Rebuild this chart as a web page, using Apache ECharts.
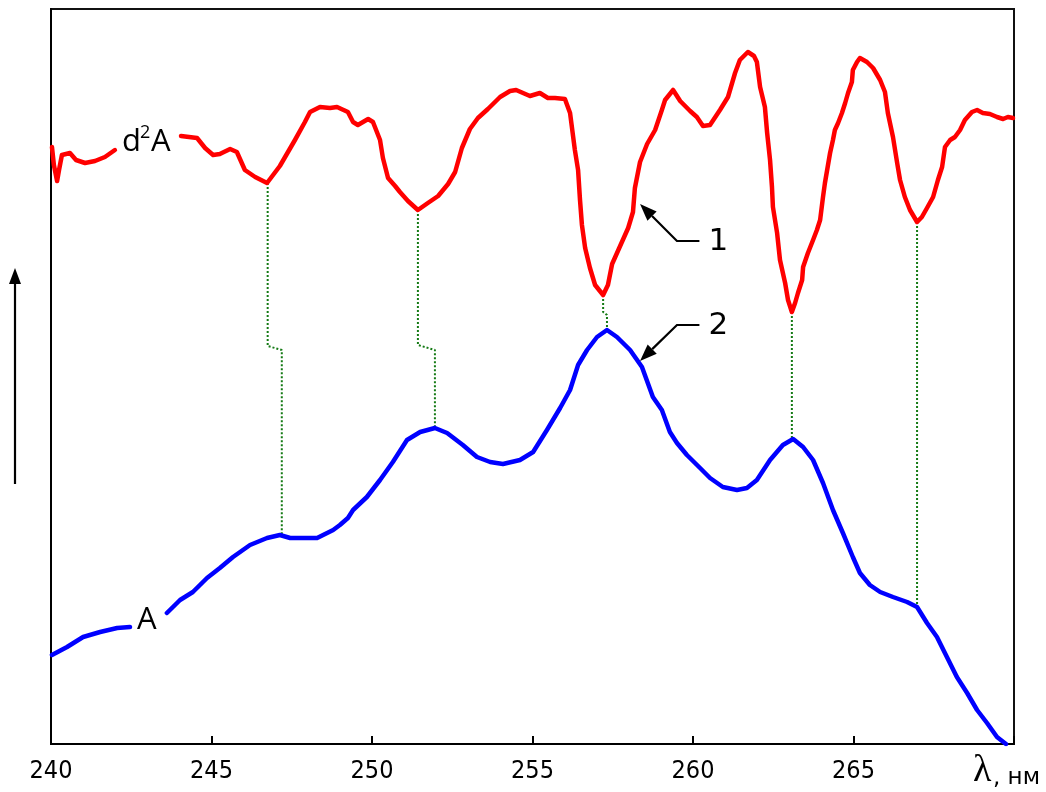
<!DOCTYPE html>
<html>
<head>
<meta charset="utf-8">
<script src="https://cdn.jsdelivr.net/npm/echarts@6/dist/echarts.min.js"></script>
<style>
  html, body { margin: 0; padding: 0; background: #ffffff; }
  #chart { width: 1046px; height: 792px; }
</style>
</head>
<body>
<div id="chart"></div>
<script>
// Wavelength axis, nm
const tickLabels = ['240', '245', '250', '255', '260', '265'];

// Curve 1: second-derivative spectrum d2A (arbitrary units); null = gap for its label
const d2aLambda = [
  240.03, 240.09, 240.19, 240.25, 240.34, 240.59, 240.78, 241.06, 241.37, 241.68, 241.99,
  242.50,
  244.05, 244.55, 244.80, 245.05, 245.26, 245.58, 245.79, 246.04, 246.36, 246.73,
  247.13, 247.60, 247.91, 248.07, 248.38, 248.69, 248.91, 249.25, 249.41, 249.56,
  249.88, 250.03, 250.25, 250.34, 250.50, 250.72, 250.87, 251.12, 251.43, 251.74,
  252.06, 252.37, 252.59, 252.80, 253.05, 253.30, 253.61, 253.99, 254.30, 254.49,
  254.92, 255.23, 255.48, 255.70, 256.01, 256.17, 256.32, 256.42, 256.48, 256.54,
  256.64, 256.79, 256.95, 257.20, 257.35, 257.48, 257.73, 257.98, 258.13, 258.19,
  258.35, 258.57, 258.82, 259.03, 259.13, 259.38, 259.60, 259.91, 260.12, 260.31,
  260.53, 260.84, 261.09, 261.31, 261.46, 261.71, 261.90, 261.99, 262.09, 262.24,
  262.31, 262.40, 262.46, 262.49, 262.62, 262.71, 262.87, 262.96, 263.08, 263.18,
  263.27, 263.40, 263.43, 263.58, 263.74, 263.86, 263.96, 264.05, 264.11, 264.27,
  264.36, 264.42, 264.52, 264.64, 264.74, 264.83, 264.95, 264.98, 265.11, 265.20,
  265.42, 265.61, 265.83, 265.98, 266.07, 266.23, 266.36, 266.45, 266.60, 266.76,
  266.98, 267.13, 267.29, 267.48, 267.63, 267.76, 267.85, 268.01, 268.16, 268.32,
  268.47, 268.69, 268.85, 269.03, 269.25, 269.47, 269.66, 269.81, 269.97
];
const d2aValues = [
  119.4, 115.8, 112.6, 114.8, 117.8, 118.2, 116.8, 116.2, 116.6, 117.4, 118.8,
  null,
  121.6, 121.2, 119.2, 117.8, 118.0, 119.0, 118.4, 114.8, 113.4, 112.2,
  115.6, 120.8, 124.4, 126.4, 127.4, 127.2, 127.4, 126.4, 124.4, 123.8,
  125.0, 124.4, 120.8, 117.2, 113.2, 111.6, 110.4, 108.6, 106.8, 108.2,
  109.6, 112.0, 114.4, 119.2, 123.0, 125.2, 127.0, 129.4, 130.6, 130.8,
  129.6, 130.2, 129.2, 129.2, 129.0, 126.2, 118.8, 114.8, 108.8, 103.8,
  99.2, 95.2, 91.8, 89.8, 91.8, 96.0, 99.6, 103.2, 106.4, 111.2,
  116.4, 120.0, 122.8, 126.8, 128.8, 130.8, 128.6, 126.6, 125.4, 123.6,
  123.8, 126.8, 129.4, 134.2, 136.8, 138.4, 137.6, 136.4, 131.4, 127.4,
  122.2, 116.8, 111.4, 107.4, 102.2, 96.8, 92.2, 88.8, 86.4, 88.2,
  90.2, 92.8, 95.4, 98.2, 100.8, 102.8, 104.8, 109.4, 112.2, 118.2,
  120.8, 122.8, 124.2, 126.2, 128.2, 130.2, 132.4, 134.8, 136.4, 137.2,
  136.4, 135.2, 132.8, 130.4, 126.2, 121.4, 116.2, 112.8, 109.4, 106.8,
  104.4, 105.4, 107.2, 109.4, 112.8, 115.4, 119.4, 120.8, 121.4, 122.8,
  124.8, 126.4, 126.8, 126.2, 126.0, 125.4, 125.0, 125.4, 125.2
];

// Curve 2: absorption spectrum A (arbitrary units); null = gap for its label
const absLambda = [
  240.03, 240.50, 241.00, 241.53, 242.06, 242.46,
  243.00,
  243.61, 244.02, 244.42, 244.86, 245.26, 245.67, 246.20, 246.73, 247.13, 247.45,
  248.29, 248.79, 249.00, 249.25, 249.41, 249.84, 250.25, 250.65, 251.09, 251.50,
  251.96, 252.34, 252.83, 253.27, 253.68, 254.08, 254.61, 255.02, 255.45, 255.86,
  256.17, 256.42, 256.70, 257.01, 257.32, 257.63, 258.04, 258.41, 258.75, 259.03,
  259.28, 259.50, 259.81, 260.22, 260.53, 260.93, 261.37, 261.68, 261.99, 262.40,
  262.80, 263.12, 263.43, 263.74, 264.05, 264.36, 264.67, 264.98, 265.20, 265.51,
  265.83, 266.23, 266.67, 266.98, 267.29, 267.60, 267.91, 268.22, 268.54, 268.85,
  269.16, 269.47, 269.75
];
const absValues = [
  17.8, 19.4, 21.4, 22.4, 23.2, 23.4,
  null,
  26.2, 28.8, 30.4, 33.2, 35.2, 37.4, 39.8, 41.2, 41.8, 41.2,
  41.2, 42.8, 43.8, 45.2, 46.8, 49.4, 52.8, 56.4, 60.8, 62.4,
  63.2, 62.2, 59.8, 57.4, 56.4, 56.0, 56.8, 58.4, 62.8, 67.2,
  70.8, 75.8, 78.8, 81.4, 82.8, 81.4, 78.8, 75.4, 69.4, 66.8,
  62.4, 60.2, 57.8, 55.2, 53.2, 51.4, 50.8, 51.2, 52.8, 56.8,
  59.8, 61.0, 59.4, 56.8, 52.2, 46.8, 42.2, 37.4, 34.2, 31.8,
  30.4, 29.4, 28.4, 27.4, 24.2, 21.4, 17.4, 13.4, 10.2, 6.8,
  4.2, 1.4, 0.0
];

// Dotted guides from each d2A minimum down to the matching feature of A
const guideRed = [[246.75, 112.2], [251.43, 106.8], [257.20, 89.8], [263.08, 86.4], [266.98, 104.4]];
const guideBlue = [[247.19, 41.8], [251.96, 63.2], [257.32, 82.8], [263.08, 61.0], [266.98, 27.4]];
const guideStep = [[79.6, 78.8], [79.8, 78.8], [86.4, 85.8], null, null];

// Callouts "1" and "2": arrow tip, elbow and end of the leader, in data units
const calloutText = ['1', '2'];
const calloutTip = [[258.35, 108.0], [258.35, 76.6]];
const calloutElbow = [[259.50, 100.6], [259.50, 83.8]];
const calloutEnd = [[260.20, 100.6], [260.20, 83.8]];

const toPairs = (xs, ys) => xs.map((x, i) => [x, ys[i] == null ? '-' : ys[i]]);

function guidePath(i) {
  const r = guideRed[i], b = guideBlue[i], s = guideStep[i];
  if (!s) return [r, [r[0], b[1]]];
  return [r, [r[0], s[0]], [b[0], s[1]], b];
}

const guideSeries = guideRed.map((_, i) => ({
  type: 'line',
  data: guidePath(i),
  showSymbol: false,
  silent: true,
  z: 1,
  lineStyle: { color: '#147a14', width: 2, type: [2, 2] }
}));

const chart = echarts.init(document.getElementById('chart'), null, { renderer: 'canvas' });

const axisFont = "'DejaVu Sans Condensed', 'DejaVu Sans', sans-serif";

chart.setOption({
  backgroundColor: '#ffffff',
  animation: false,
  grid: {
    left: 51, right: 32, top: 9, bottom: 48,
    show: true, borderColor: '#111111', borderWidth: 2, backgroundColor: 'transparent'
  },
  xAxis: {
    type: 'value',
    min: 240, max: 270, interval: 5,
    axisLine: { show: true, lineStyle: { color: '#000', width: 2 } },
    axisTick: { show: true, inside: true, length: 8, lineStyle: { color: '#000', width: 2 } },
    splitLine: { show: false },
    axisLabel: {
      margin: 15,
      color: '#000',
      fontFamily: axisFont,
      fontSize: 25,
      formatter: v => (tickLabels.includes(String(v)) ? String(v) : '')
    }
  },
  yAxis: {
    type: 'value',
    min: 0, max: 147,
    axisLine: { show: true, lineStyle: { color: '#000', width: 2 } },
    axisTick: { show: false },
    axisLabel: { show: false },
    splitLine: { show: false }
  },
  series: [
    ...guideSeries,
    {
      type: 'line',
      name: 'd2A',
      data: toPairs(d2aLambda, d2aValues),
      showSymbol: false,
      connectNulls: false,
      z: 3,
      lineStyle: { color: '#ff0000', width: 4.5, join: 'round', cap: 'round' }
    },
    {
      type: 'line',
      name: 'A',
      data: toPairs(absLambda, absValues),
      showSymbol: false,
      connectNulls: false,
      z: 3,
      lineStyle: { color: '#0000ff', width: 4.5, join: 'round', cap: 'round' }
    }
  ]
});

// Annotation layer: labels, callout arrows and the intensity arrow
function arrowHead(tip, from, len, halfW) {
  const dx = tip[0] - from[0], dy = tip[1] - from[1];
  const L = Math.hypot(dx, dy);
  const ux = dx / L, uy = dy / L;
  const bx = tip[0] - ux * len, by = tip[1] - uy * len;
  return {
    base: [bx, by],
    points: [[tip[0], tip[1]], [bx - uy * halfW, by + ux * halfW], [bx + uy * halfW, by - ux * halfW]]
  };
}

const px = p => chart.convertToPixel({ gridIndex: 0 }, p);
const graphics = [];

calloutText.forEach((t, i) => {
  const tip = px(calloutTip[i]), elbow = px(calloutElbow[i]), end = px(calloutEnd[i]);
  const head = arrowHead(tip, elbow, 17, 6.5);
  graphics.push({
    type: 'polyline', silent: true, z: 10,
    shape: { points: [head.base, elbow, end] },
    style: { stroke: '#000', lineWidth: 2.2, fill: null }
  });
  graphics.push({
    type: 'polygon', silent: true, z: 10,
    shape: { points: head.points },
    style: { fill: '#000' }
  });
  graphics.push({
    type: 'text', silent: true, z: 10,
    x: end[0] + 9, y: end[1] + 1,
    style: {
      text: t, fill: '#000', font: "31px 'DejaVu Sans', sans-serif",
      align: 'left', verticalAlign: 'middle'
    }
  });
});

// Curve labels
graphics.push({
  type: 'text', silent: true, z: 10, x: 122, y: 142,
  style: { text: 'd', fill: '#000', font: "31px 'Open Sans', sans-serif", verticalAlign: 'middle' }
});
graphics.push({
  type: 'text', silent: true, z: 10, x: 140, y: 133,
  style: { text: '2', fill: '#000', font: "18px 'Open Sans', sans-serif", verticalAlign: 'middle' }
});
graphics.push({
  type: 'text', silent: true, z: 10, x: 151, y: 142,
  style: { text: 'A', fill: '#000', font: "31px 'Open Sans', sans-serif", verticalAlign: 'middle' }
});
graphics.push({
  type: 'text', silent: true, z: 10, x: 137, y: 620,
  style: { text: 'A', fill: '#000', font: "31px 'Open Sans', sans-serif", verticalAlign: 'middle' }
});

// Axis title λ, нм
graphics.push({
  type: 'text', silent: true, z: 10, x: 973, y: 771,
  style: { text: 'λ', fill: '#000', font: "38px 'Liberation Serif', serif", verticalAlign: 'middle' }
});
graphics.push({
  type: 'text', silent: true, z: 10, x: 993, y: 778,
  style: { text: ', нм', fill: '#000', font: "23px 'DejaVu Sans', sans-serif", verticalAlign: 'middle' }
});

// Upward intensity arrow left of the plot
const upHead = arrowHead([15, 268], [15, 484], 16, 6);
graphics.push({
  type: 'line', silent: true, z: 10,
  shape: { x1: 15, y1: 484, x2: upHead.base[0], y2: upHead.base[1] },
  style: { stroke: '#000', lineWidth: 2.2 }
});
graphics.push({
  type: 'polygon', silent: true, z: 10,
  shape: { points: upHead.points },
  style: { fill: '#000' }
});

chart.setOption({ graphic: { elements: graphics } });
</script>
</body>
</html>
